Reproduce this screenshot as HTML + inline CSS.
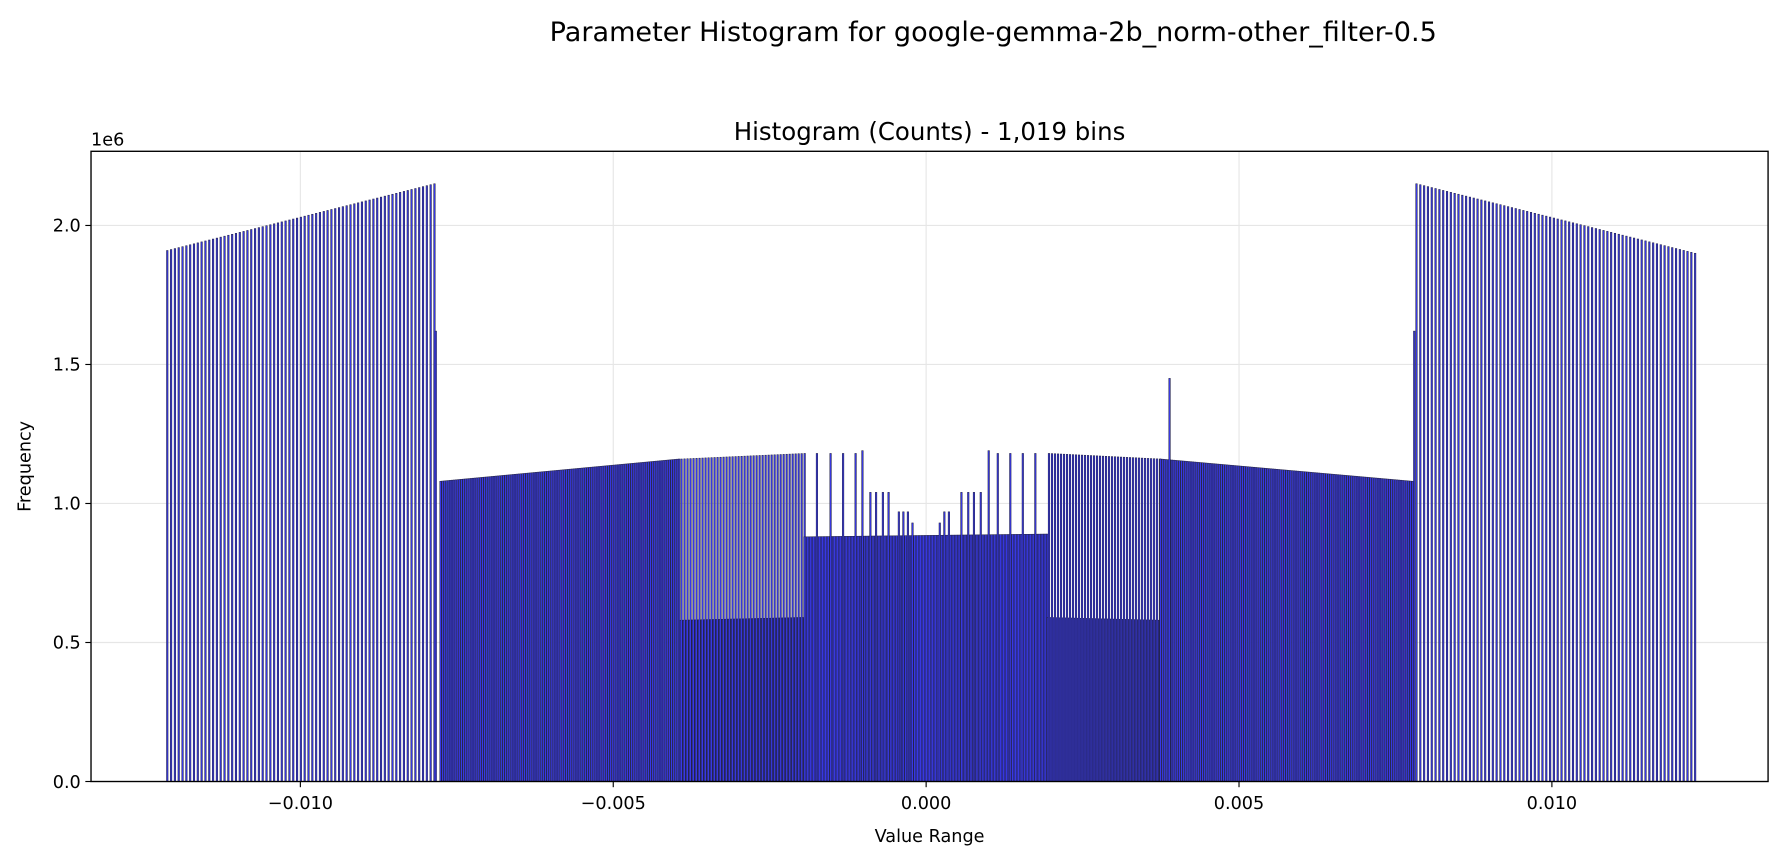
<!DOCTYPE html>
<html><head><meta charset="utf-8"><style>
body{margin:0;background:#fff;}
svg{display:block;font-family:"DejaVu Sans","Liberation Sans",sans-serif;}
</style></head><body>
<svg id="chart" width="1784" height="860" viewBox="0 0 1568 756" preserveAspectRatio="none" xmlns="http://www.w3.org/2000/svg">
<text x="873" y="36" font-size="23.8" text-anchor="middle" fill="#000">Parameter Histogram for google-gemma-2b_norm-other_filter-0.5</text>
<text x="817" y="123" font-size="21.5" text-anchor="middle" fill="#000">Histogram (Counts) - 1,019 bins</text>
<g id="grid"></g>
<g id="bars"></g>
<rect x="80" y="133" width="1474" height="554" fill="none" stroke="#000" stroke-width="1.2"/>
<g id="axes"></g>
<text x="80" y="128" font-size="15.5">1e6</text>
<text x="817" y="740" font-size="15.5" text-anchor="middle">Value Range</text>
<text x="27" y="410" font-size="15.5" text-anchor="middle" transform="rotate(-90 27 410)">Frequency</text>
</svg>
<script>
// segment data (values in units, counts in 1e6)
const segStart = [-0.012127, -0.00776, -0.003927, -0.003909, -0.001945, 0.001945, 0.001963, 0.003745, 0.007836];
const segEnd   = [-0.007873, -0.003945, -0.001964, -0.001964, 0.001927, 0.003727, 0.003727, 0.00778, 0.01227];
const segStep  = [0.000061, 0.0000305, 0.0000241, 0.000048, 0.0000241, 0.0000241, 0.000048, 0.0000305, 0.000061];
const segH0    = [1.91, 1.08, 0.58, 1.16, 0.88, 0.59, 1.18, 1.16, 2.15];
const segH1    = [2.15, 1.16, 0.59, 1.18, 0.89, 0.58, 1.16, 1.08, 1.90];
// individual spikes
const spikeX = [-0.007836, -0.001745, -0.001527, -0.001327, -0.001127, -0.001018, -0.000891, -0.000800, -0.000691, -0.000600, -0.000436, -0.000364, -0.000291, -0.000218, 0.000218, 0.000291, 0.000364, 0.000564, 0.000673, 0.000764, 0.000873, 0.001000, 0.001145, 0.001345, 0.001545, 0.001745, 0.00389, 0.0078];
const spikeH = [1.62, 1.18, 1.18, 1.18, 1.18, 1.19, 1.04, 1.04, 1.04, 1.04, 0.97, 0.97, 0.97, 0.93, 0.93, 0.97, 0.97, 1.04, 1.04, 1.04, 1.04, 1.19, 1.18, 1.18, 1.18, 1.18, 1.45, 1.62];
const xTicks = [-0.010, -0.005, 0.000, 0.005, 0.010];
const xTickLabels = ["\u22120.010", "\u22120.005", "0.000", "0.005", "0.010"];
const yTicks = [0, 0.5, 1.0, 1.5, 2.0];
const yTickLabels = ["0.0", "0.5", "1.0", "1.5", "2.0"];

const NS = "http://www.w3.org/2000/svg";
const X = v => 814 + v * 55000;
const Y = c => 687 - c * 244.4;
const binW = 0.0000241;
const barsG = document.getElementById('bars');
const gridG = document.getElementById('grid');
const axesG = document.getElementById('axes');
function bar(v, h) {
  const r = document.createElementNS(NS, 'rect');
  
  
  const x0 = X(v - binW / 2), x1 = X(v + binW / 2);
  r.setAttribute('x', x0.toFixed(2));
  r.setAttribute('y', Y(h).toFixed(2));
  r.setAttribute('width', (x1 - x0).toFixed(2));
  r.setAttribute('height', (Y(0) - Y(h)).toFixed(2));
  r.setAttribute('fill', '#3a3af0');
  r.setAttribute('stroke', '#24244a');
  r.setAttribute('stroke-width', '0.5');
  barsG.appendChild(r);
}
for (let s = 0; s < segStart.length; s++) {
  const n = Math.round((segEnd[s] - segStart[s]) / segStep[s]);
  for (let i = 0; i <= n; i++) {
    const v = segStart[s] + i * segStep[s];
    const t = n ? i / n : 0;
    bar(v, segH0[s] + (segH1[s] - segH0[s]) * t);
  }
}
for (let i = 0; i < spikeX.length; i++) bar(spikeX[i], spikeH[i]);

xTicks.forEach((v, i) => {
  const g = document.createElementNS(NS, 'line');
  
  
  g.setAttribute('x1', X(v)); g.setAttribute('x2', X(v));
  g.setAttribute('y1', 133); g.setAttribute('y2', 687);
  g.setAttribute('stroke', '#e6e6e6'); g.setAttribute('stroke-width', '1');
  gridG.appendChild(g);
  const tk = document.createElementNS(NS, 'line');
  
  
  tk.setAttribute('x1', X(v)); tk.setAttribute('x2', X(v));
  tk.setAttribute('y1', 687); tk.setAttribute('y2', 692);
  tk.setAttribute('stroke', '#000');
  axesG.appendChild(tk);
  const t = document.createElementNS(NS, 'text');
  
  
  t.setAttribute('x', X(v)); t.setAttribute('y', 711);
  t.setAttribute('font-size', '15.5'); t.setAttribute('text-anchor', 'middle');
  t.textContent = xTickLabels[i];
  axesG.appendChild(t);
});
yTicks.forEach((v, i) => {
  const g = document.createElementNS(NS, 'line');
  
  
  g.setAttribute('x1', 80); g.setAttribute('x2', 1554);
  g.setAttribute('y1', Y(v)); g.setAttribute('y2', Y(v));
  g.setAttribute('stroke', '#e6e6e6'); g.setAttribute('stroke-width', '1');
  gridG.appendChild(g);
  const tk = document.createElementNS(NS, 'line');
  
  
  tk.setAttribute('x1', 75); tk.setAttribute('x2', 80);
  tk.setAttribute('y1', Y(v)); tk.setAttribute('y2', Y(v));
  tk.setAttribute('stroke', '#000');
  axesG.appendChild(tk);
  const t = document.createElementNS(NS, 'text');
  
  
  t.setAttribute('x', 71); t.setAttribute('y', Y(v) + 5.5);
  t.setAttribute('font-size', '15.5'); t.setAttribute('text-anchor', 'end');
  t.textContent = yTickLabels[i];
  axesG.appendChild(t);
});
</script>
</body></html>
